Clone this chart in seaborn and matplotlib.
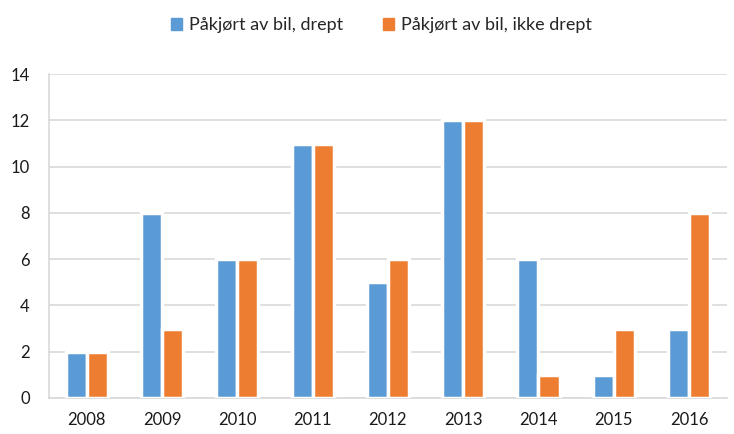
import numpy as np
import pandas as pd
import matplotlib
matplotlib.use("Agg")
import matplotlib.pyplot as plt
import seaborn as sns

# Data
years = ["2008", "2009", "2010", "2011", "2012", "2013", "2014", "2015", "2016"]
drept = [2, 8, 6, 11, 5, 12, 6, 1, 3]
ikke_drept = [2, 3, 6, 11, 6, 12, 1, 3, 8]
series_names = ["Påkjørt av bil, drept", "Påkjørt av bil, ikke drept"]
colors = ["#5B9BD5", "#ED7D31"]

df = pd.DataFrame({
    "year": years * 2,
    "value": drept + ikke_drept,
    "series": [series_names[0]] * len(years) + [series_names[1]] * len(years),
})

sns.set_style("white")
plt.rcParams["font.family"] = ["Lato", "DejaVu Sans"]

fig = plt.figure(figsize=(7.34, 4.34), dpi=100)
ax = fig.add_axes([0.067, 0.083, 0.923, 0.746])

sns.barplot(data=df, x="year", y="value", hue="series", palette=colors,
            saturation=1, width=0.56, edgecolor="white", linewidth=2.5,
            ax=ax, zorder=3)

ax.set_ylim(0, 14)
ax.set_yticks(range(0, 15, 2))
ax.grid(axis="y", color="#d9d9d9", linewidth=1.2, zorder=0)
ax.set_axisbelow(True)
ax.set_xlabel("")
ax.set_ylabel("")
for side in ["top", "right"]:
    ax.spines[side].set_visible(False)
for side in ["left", "bottom"]:
    ax.spines[side].set_color("#d9d9d9")
    ax.spines[side].set_linewidth(1.2)
ax.tick_params(axis="both", length=0, labelsize=12, colors="#1a1a1a", pad=10)
ax.tick_params(axis="y", pad=14)

ax.legend_.remove()
handles = [plt.Rectangle((0, 0), 1, 1, color=c) for c in colors]
fig.legend(handles, series_names, loc="center", bbox_to_anchor=(0.52, 0.942),
           ncol=2, frameon=False, fontsize=13, handlelength=0.6, handleheight=0.6,
           columnspacing=2.2, handletextpad=0.4)

fig.savefig("out.png", dpi=100)
